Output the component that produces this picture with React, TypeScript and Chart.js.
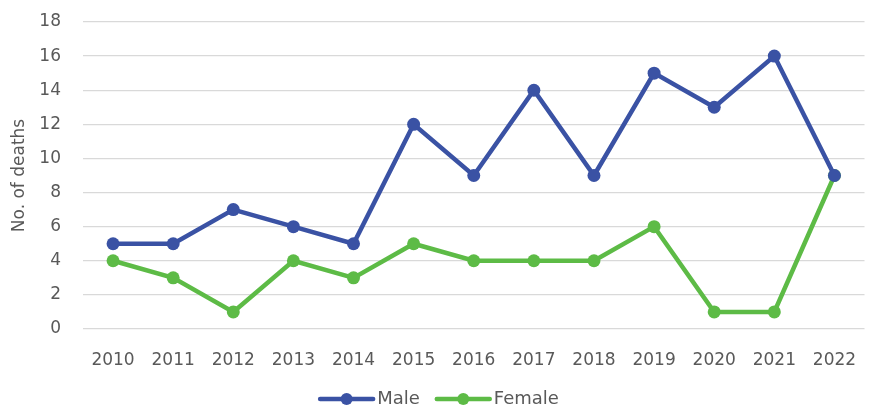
import React, { useEffect, useRef } from "react";
import { Chart, registerables } from "chart.js";

Chart.register(...registerables);

const years = ["2010", "2011", "2012", "2013", "2014", "2015", "2016", "2017", "2018", "2019", "2020", "2021", "2022"];
const male = [5, 5, 7, 6, 5, 12, 9, 14, 9, 15, 13, 16, 9];
const female = [4, 3, 1, 4, 3, 5, 4, 4, 4, 6, 1, 1, 9];

const BLUE = "#3A52A4";
const GREEN = "#5DBB46";
const TEXT = "#595959";
const FONT = "'DejaVu Sans', sans-serif";

const bottomLegend = {
  id: "bottomLegend",
  afterDraw(chart: any) {
    const ctx = chart.ctx as CanvasRenderingContext2D;
    const items = chart.data.datasets.map((ds: any) => ({ text: ds.label as string, color: ds.borderColor as string }));
    ctx.save();
    ctx.font = `18px ${FONT}`;
    const iconW = 57;
    const gapText = 2;
    const gapItem = 15;
    const widths = items.map((it: any) => iconW + gapText + ctx.measureText(it.text).width);
    const total = widths.reduce((a: number, b: number) => a + b, 0) + gapItem * (items.length - 1);
    let x = chart.width / 2 - total / 2 + 3;
    const y = chart.height - 11;
    items.forEach((it: any, i: number) => {
      ctx.strokeStyle = it.color;
      ctx.lineWidth = 4.5;
      ctx.lineCap = "round";
      ctx.beginPath();
      ctx.moveTo(x + 2, y);
      ctx.lineTo(x + iconW - 2, y);
      ctx.stroke();
      ctx.fillStyle = it.color;
      ctx.beginPath();
      ctx.arc(x + iconW / 2, y, 6, 0, Math.PI * 2);
      ctx.fill();
      ctx.fillStyle = TEXT;
      ctx.textBaseline = "middle";
      ctx.textAlign = "left";
      ctx.fillText(it.text, x + iconW + gapText, y);
      x += widths[i] + gapItem;
    });
    ctx.restore();
  },
};

export default function App() {
  const ref = useRef<HTMLCanvasElement | null>(null);
  useEffect(() => {
    document.body.style.margin = "0";
    const chart = new Chart(ref.current!, {
      type: "line",
      data: {
        labels: years,
        datasets: [
          {
            label: "Male",
            data: male,
            borderColor: BLUE,
            backgroundColor: BLUE,
            borderWidth: 4.5,
            pointRadius: 6.5,
            pointBackgroundColor: BLUE,
            pointBorderWidth: 0,
          },
          {
            label: "Female",
            data: female,
            borderColor: GREEN,
            backgroundColor: GREEN,
            borderWidth: 4.5,
            pointRadius: 6.5,
            pointBackgroundColor: GREEN,
            pointBorderWidth: 0,
          },
        ],
      },
      options: {
        animation: false,
        responsive: false,
        layout: { padding: { left: 9, right: 0, top: 22, bottom: 24 } },
        elements: { point: { pointStyle: "circle" }, line: { tension: 0 } },
        plugins: {
          tooltip: { enabled: false },
          legend: { display: false },
        },
        scales: {
          x: {
            offset: true,
            grid: { display: false },
            border: { display: false },
            ticks: { color: TEXT, font: { family: FONT, size: 17 }, maxRotation: 0, autoSkip: false, padding: 13 },
            afterFit: (s: any) => {
              s.height = 57;
              s.paddingLeft = 0;
              s.paddingRight = 0;
            },
          },
          y: {
            min: 0,
            max: 18,
            ticks: { stepSize: 2, color: TEXT, font: { family: FONT, size: 17 }, padding: 22 },
            grid: { color: "#D9D9D9", lineWidth: 1.3, drawTicks: false },
            border: { display: false },
            title: { display: true, text: "No. of deaths", color: TEXT, font: { family: FONT, size: 17 }, padding: 0 },
            afterFit: (s: any) => {
              s.width = 74;
              s.paddingTop = 0;
              s.paddingBottom = 0;
            },
          },
        },
      },
      plugins: [bottomLegend],
    });
    return () => chart.destroy();
  }, []);
  return (
    <div style={{ position: "absolute", left: 0, top: 0, width: 871, height: 410 }}>
      <canvas ref={ref} width={871} height={410} style={{ width: 871, height: 410 }} />
    </div>
  );
}
